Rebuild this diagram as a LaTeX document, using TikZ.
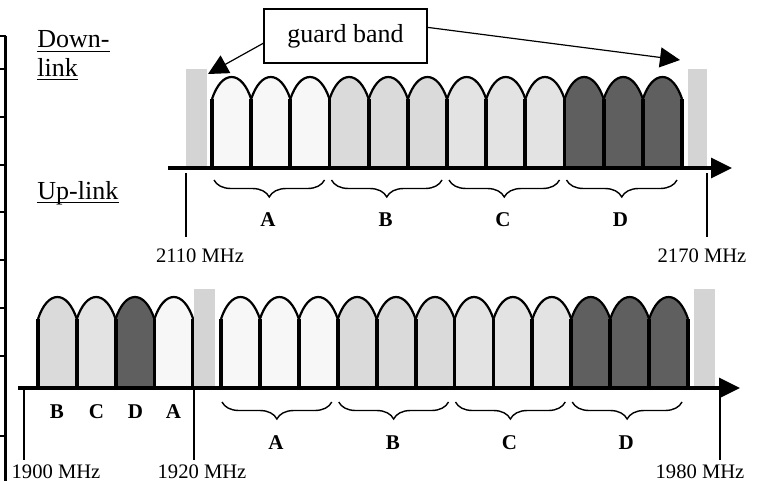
\documentclass[tikz,border=0pt]{standalone}
\usepackage{fontspec}
\setmainfont{Liberation Serif}
\usetikzlibrary{arrows.meta,decorations.pathreplacing,calc}

\definecolor{chA}{HTML}{F7F7F7}
\definecolor{chB}{HTML}{DADADA}
\definecolor{chC}{HTML}{E3E3E3}
\definecolor{chD}{HTML}{5F5F5F}
\definecolor{guard}{HTML}{D4D4D4}

% one carrier: #1 left x, #2 width, #3 base y, #4 fill colour
\newcommand\carrier[4]{%
  \pgfmathsetmacro\cxa{#1}%
  \pgfmathsetmacro\cxb{#1+#2}%
  \pgfmathsetmacro\cxm{#1+#2/2}%
  \pgfmathsetmacro\cys{#3-69}%
  \pgfmathsetmacro\cyt{#3-91}%
  \pgfmathsetmacro\cky{#3-69-14}%
  \pgfmathsetmacro\cpa{#1+0.12*#2}%
  \pgfmathsetmacro\cpb{#1+#2-0.12*#2}%
  \pgfmathsetmacro\ckxa{#1+#2/2-0.2*#2}%
  \pgfmathsetmacro\ckxb{#1+#2/2+0.2*#2}%
  \fill[#4] (\cxa,#3) -- (\cxa,\cys) .. controls (\cpa,\cky) and (\ckxa,\cyt) .. (\cxm,\cyt)
     .. controls (\ckxb,\cyt) and (\cpb,\cky) .. (\cxb,\cys) -- (\cxb,#3) -- cycle;
  \draw[archline] (\cxa,\cys) .. controls (\cpa,\cky) and (\ckxa,\cyt) .. (\cxm,\cyt)
     .. controls (\ckxb,\cyt) and (\cpb,\cky) .. (\cxb,\cys);
  \draw[sideline] (\cxa,#3) -- (\cxa,\cys) (\cxb,#3) -- (\cxb,\cys);
}

\begin{document}
\begin{tikzpicture}[x=0.5pt,y=-0.5pt,
  axisline/.style={line width=1.6pt,-{Triangle[length=10.5pt,width=10pt]}},
  tickline/.style={line width=0.6pt},
  edgeline/.style={line width=1.3pt},
  archline/.style={line width=1.1pt},
  sideline/.style={line width=1.9pt},
  bracestyle/.style={decorate,decoration={brace,mirror,amplitude=8.5pt},line width=0.7pt},
  grp/.style={font=\fontsize{10.5}{12}\selectfont\bfseries,inner sep=0pt},
  freq/.style={font=\fontsize{10.3}{12}\selectfont,inner sep=0pt},
  bandlabel/.style={font=\fontsize{13}{15}\selectfont,anchor=base west,inner sep=0pt},
  underl/.style={line width=0.8pt},
  callout/.style={line width=0.6pt,-{Triangle[length=10pt,width=10pt]}},
  boxstyle/.style={draw,line width=0.6pt,minimum width=81.5pt,minimum height=27pt,
    inner sep=0pt,font=\fontsize{13}{15}\selectfont}]
\useasboundingbox (0,0) rectangle (764,481);

% edge of the neighbouring table
\coordinate (e0) at (5.5,36);
\coordinate (e1) at (5.5,481);
\draw[edgeline] (e0) -- (e1);
\foreach \ty in {36,69,117,165,212,260,308,356,436}
  \draw[edgeline] (0,\ty) -- (5.5,\ty);

% ---------- downlink band ----------
\fill[guard] (186,69) rectangle (207,168);
\fill[guard] (688,69) rectangle (707,168);
\foreach \i/\c in {0/chA,1/chA,2/chA,3/chB,4/chB,5/chB,6/chC,7/chC,8/chC,9/chD,10/chD,11/chD}
  \carrier{212+\i*39.17}{39.17}{168}{\c};
\coordinate (da0) at (168,168);
\coordinate (da1) at (732,168);
\draw[axisline] (da0) -- (da1);

\foreach \g/\l in {0/A,1/B,2/C,3/D}{
  \coordinate (db\l0) at ({212+\g*117.5+2},180);
  \coordinate (db\l1) at ({212+(\g+1)*117.5-5},180);
  \draw[bracestyle] (db\l0) -- (db\l1);
  \node[grp] (dg\l) at ({212+\g*117.5+56},220) {\l};
}

\coordinate (t2110a) at (186,173);
\coordinate (t2110b) at (186,237);
\draw[tickline] (t2110a) -- (t2110b);
\node[freq] (f2110) at (200,256) {2110 MHz};
\coordinate (t2170a) at (707,173);
\coordinate (t2170b) at (707,237);
\draw[tickline] (t2170a) -- (t2170b);
\node[freq] (f2170) at (702,256) {2170 MHz};

% ---------- uplink band ----------
\foreach \i/\c in {0/chB,1/chC,2/chD,3/chA}
  \carrier{38+\i*38.8}{38.8}{388}{\c};
\fill[guard] (194,289) rectangle (215,388);
\fill[guard] (694,289) rectangle (715,388);
\foreach \i/\c in {0/chA,1/chA,2/chA,3/chB,4/chB,5/chB,6/chC,7/chC,8/chC,9/chD,10/chD,11/chD}
  \carrier{221+\i*38.92}{38.92}{388}{\c};
\coordinate (ua0) at (18,388);
\coordinate (ua1) at (740,388);
\draw[axisline] (ua0) -- (ua1);

\foreach \l/\x in {B/57,C/96.5,D/135.5,A/173.5}
  \node[grp] (ul\l) at (\x,412) {\l};

\foreach \g/\l in {0/A,1/B,2/C,3/D}{
  \coordinate (ub\l0) at ({221+\g*116.75+1},402);
  \coordinate (ub\l1) at ({221+(\g+1)*116.75-6},402);
  \draw[bracestyle] (ub\l0) -- (ub\l1);
  \node[grp] (ug\l) at ({221+\g*116.75+55},443) {\l};
}

\coordinate (t1900a) at (24,390);
\coordinate (t1900b) at (24,460);
\draw[tickline] (t1900a) -- (t1900b);
\node[freq] (f1900) at (56,472) {1900 MHz};
\coordinate (t1920a) at (194,390);
\coordinate (t1920b) at (194,460);
\draw[tickline] (t1920a) -- (t1920b);
\node[freq] (f1920) at (202,472) {1920 MHz};
\coordinate (t1980a) at (720,390);
\coordinate (t1980b) at (720,460);
\draw[tickline] (t1980a) -- (t1980b);
\node[freq] (f1980) at (700,472) {1980 MHz};

% ---------- band names ----------
\node[bandlabel] (dl1) at (37,48) {Down-};
\node[bandlabel] (dl2) at (37,76) {link};
\node[bandlabel] (upl) at (37,199) {Up-link};
\draw[underl] ($(dl1.base west)+(0,3.5)$) -- ($(dl1.base east)+(0,3.5)$);
\draw[underl] ($(dl2.base west)+(0,3.5)$) -- ($(dl2.base east)+(0,3.5)$);
\draw[underl] ($(upl.base west)+(0,3.5)$) -- ($(upl.base east)+(0,3.5)$);

% ---------- guard band callout ----------
\node[boxstyle] (gb) at (345.5,36) {guard band};
\coordinate (gl) at (208,74);
\coordinate (gr) at (680,60);
\draw[callout] (gb.185) -- (gl);
\draw[callout] (gb.6) -- (gr);
\end{tikzpicture}
\end{document}
